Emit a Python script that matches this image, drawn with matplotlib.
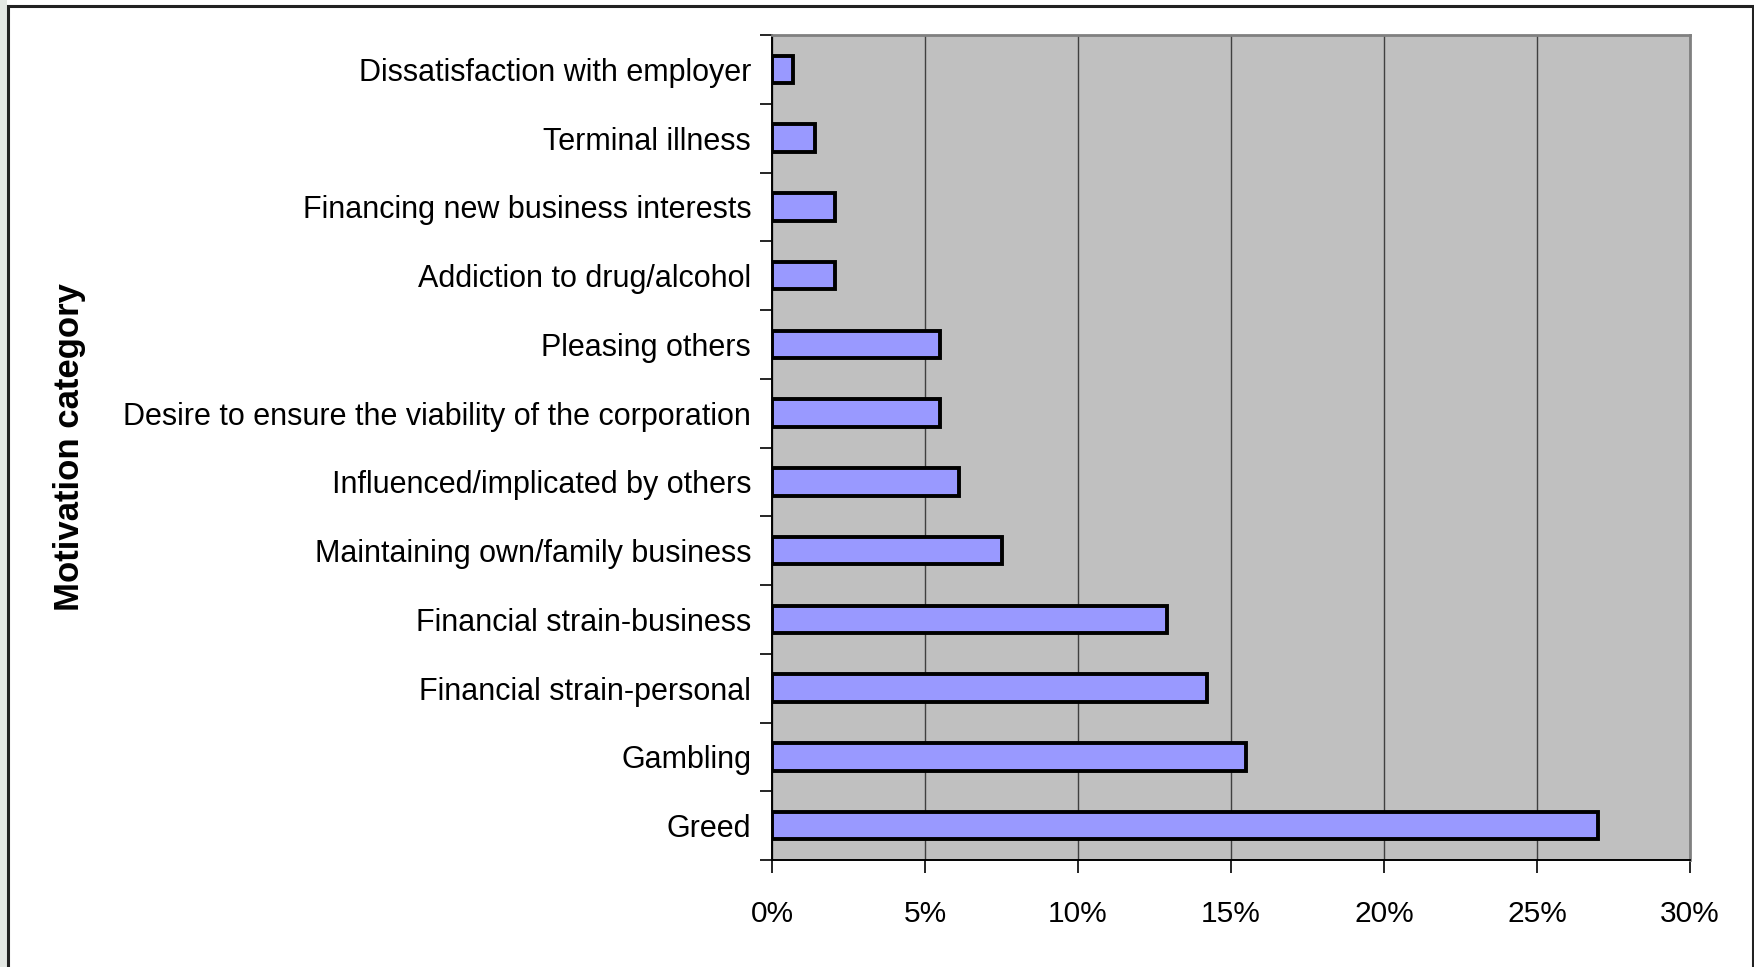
import matplotlib
matplotlib.use("Agg")
import matplotlib.pyplot as plt
from matplotlib.patches import Rectangle
from matplotlib.ticker import FuncFormatter, FixedLocator

plt.rcParams['font.family'] = ['Liberation Sans', 'DejaVu Sans']

categories = [
    "Greed",
    "Gambling",
    "Financial strain-personal",
    "Financial strain-business",
    "Maintaining own/family business",
    "Influenced/implicated by others",
    "Desire to ensure the viability of the corporation",
    "Pleasing others",
    "Addiction to drug/alcohol",
    "Financing new business interests",
    "Terminal illness",
    "Dissatisfaction with employer",
]
values = [27.0, 15.5, 14.2, 12.9, 7.5, 6.1, 5.5, 5.5, 2.05, 2.05, 1.4, 0.67]
x_ticks = [0, 5, 10, 15, 20, 25, 30]
y_label = "Motivation category"

W, H = 1754, 967
fig = plt.figure(figsize=(W / 100, H / 100), dpi=100)
fig.patch.set_facecolor("white")

# slide background strip on the left and the outer frame
fig.patches.append(Rectangle((0, 0), 7 / W, 1, transform=fig.transFigure,
                             facecolor="#e4e8e4", edgecolor="none", zorder=0))
fig.patches.append(Rectangle((7.5 / W, -0.05), (1752.5 - 7.5) / W, (H - 5.5) / H + 0.05,
                             transform=fig.transFigure, facecolor="none",
                             edgecolor="#222222", linewidth=2.2, zorder=5))

left, right, top, bottom = 772, 1690, 35, 860
ax = fig.add_axes([left / W, 1 - bottom / H, (right - left) / W, (bottom - top) / H])
ax.set_facecolor("#C0C0C0")

ypos = list(range(len(categories)))
ax.barh(ypos, values, height=0.4, color="#9999FF", edgecolor="black",
        linewidth=2.8, zorder=3)

ax.set_xlim(0, 30)
ax.set_ylim(-0.5, len(categories) - 0.5)
ax.xaxis.set_major_locator(FixedLocator(x_ticks))
ax.xaxis.set_major_formatter(FuncFormatter(lambda v, p: f"{int(round(v))}%"))
ax.grid(axis="x", color="#404040", linewidth=1.0, zorder=1)
ax.set_axisbelow(True)

ax.set_yticks(ypos)
ax.set_yticklabels(categories, fontsize=22)
ax.yaxis.set_minor_locator(FixedLocator([i - 0.5 for i in range(len(categories) + 1)]))
ax.tick_params(axis="y", which="major", length=0, pad=15)
ax.tick_params(axis="y", which="minor", length=9, width=1.2, color="black")
ax.tick_params(axis="x", which="major", length=9, width=1.2, pad=20, labelsize=21.5)

for s in ["left", "bottom"]:
    ax.spines[s].set_color("black")
    ax.spines[s].set_linewidth(1.4)
for s in ["top", "right"]:
    ax.spines[s].set_color("#808080")
    ax.spines[s].set_linewidth(2.0)

fig.text(70 / W, 1 - 447 / H, y_label, rotation=90, ha="center", va="center",
         fontsize=25, fontweight="bold")

fig.savefig("out.png", dpi=100, facecolor="white")
